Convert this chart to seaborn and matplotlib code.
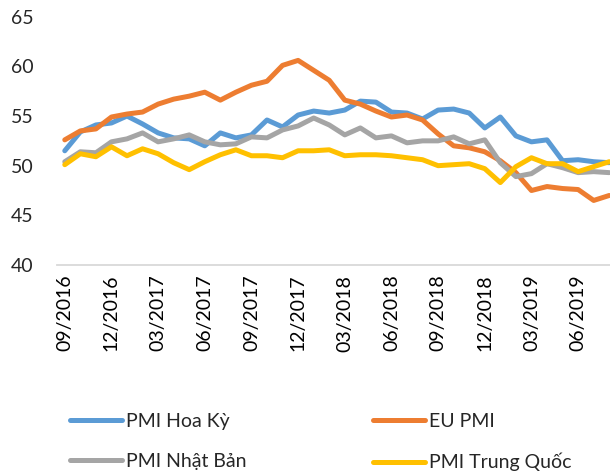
import numpy as np
import pandas as pd
import matplotlib.pyplot as plt
import seaborn as sns
from matplotlib.lines import Line2D

# ==========================
# Data (monthly, 09/2016 - 08/2019)
# ==========================
months = pd.date_range("2016-09-01", "2019-08-01", freq="MS").strftime("%m/%Y").tolist()

pmi_hoa_ky = [51.5, 53.4, 54.1, 54.3, 55.0, 54.2, 53.3, 52.8, 52.7, 52.0, 53.3, 52.8,
              53.1, 54.6, 53.9, 55.1, 55.5, 55.3, 55.6, 56.5, 56.4, 55.4, 55.3, 54.7,
              55.6, 55.7, 55.3, 53.8, 54.9, 53.0, 52.4, 52.6, 50.5, 50.6, 50.4, 50.3]
eu_pmi = [52.6, 53.5, 53.7, 54.9, 55.2, 55.4, 56.2, 56.7, 57.0, 57.4, 56.6, 57.4,
          58.1, 58.5, 60.1, 60.6, 59.6, 58.6, 56.6, 56.2, 55.5, 54.9, 55.1, 54.6,
          53.2, 52.0, 51.8, 51.4, 50.5, 49.3, 47.5, 47.9, 47.7, 47.6, 46.5, 47.0]
pmi_nhat_ban = [50.4, 51.4, 51.3, 52.4, 52.7, 53.3, 52.4, 52.7, 53.1, 52.4, 52.1, 52.2,
                52.9, 52.8, 53.6, 54.0, 54.8, 54.1, 53.1, 53.8, 52.8, 53.0, 52.3, 52.5,
                52.5, 52.9, 52.2, 52.6, 50.3, 48.9, 49.2, 50.2, 49.8, 49.3, 49.4, 49.3]
pmi_trung_quoc = [50.1, 51.2, 50.9, 51.9, 51.0, 51.7, 51.2, 50.3, 49.6, 50.4, 51.1, 51.6,
                  51.0, 51.0, 50.8, 51.5, 51.5, 51.6, 51.0, 51.1, 51.1, 51.0, 50.8, 50.6,
                  50.0, 50.1, 50.2, 49.7, 48.3, 49.9, 50.8, 50.2, 50.2, 49.4, 49.9, 50.4]

series_names = ["PMI Hoa Kỳ", "EU PMI", "PMI Nhật Bản", "PMI Trung Quốc"]
colors = ["#5B9BD5", "#ED7D31", "#A5A5A5", "#FFC000"]

df = pd.DataFrame({
    "Month": months,
    "PMI Hoa Kỳ": pmi_hoa_ky,
    "EU PMI": eu_pmi,
    "PMI Nhật Bản": pmi_nhat_ban,
    "PMI Trung Quốc": pmi_trung_quoc,
})
df["pos"] = np.arange(len(df))
long_df = df.melt(id_vars=["Month", "pos"], var_name="Series", value_name="PMI")

# ==========================
# Plot
# ==========================
sns.set_style("white")
plt.rcParams["font.family"] = ["Lato", "DejaVu Sans"]

fig = plt.figure(figsize=(6.1, 4.76), dpi=100)
ax = fig.add_axes([57 / 610, 1 - 265 / 476, 1 - 57 / 610, (265 - 16.7) / 476])

sns.lineplot(
    data=long_df, x="pos", y="PMI", hue="Series",
    hue_order=series_names, palette=colors,
    linewidth=3.6, legend=False, ax=ax,
)

n = len(months)
ax.set_xlim(-0.5, 35.05)
ax.set_ylim(40, 65)
ax.set_yticks([40, 45, 50, 55, 60, 65])
ax.set_xlabel("")
ax.set_ylabel("")

label_pos = np.arange(0, n - 2, 3)
ax.set_xticks(label_pos)
ax.set_xticklabels([months[i] for i in label_pos], rotation=90)
ax.set_xticks(label_pos - 0.5, minor=True)

ax.tick_params(axis="x", which="major", length=0, pad=7, labelsize=14, colors="black")
ax.tick_params(axis="x", which="minor", length=5, width=1.2, color="#D9D9D9", direction="out")
ax.tick_params(axis="y", length=0, pad=17, labelsize=14)

for side in ["top", "right", "left"]:
    ax.spines[side].set_visible(False)
ax.spines["bottom"].set_color("#D9D9D9")
ax.spines["bottom"].set_linewidth(1.3)

# legend is filled column-wise, so order it to read row by row like the original
legend_order = [0, 2, 1, 3]
handles = [Line2D([0], [0], color=colors[i], linewidth=3.6) for i in legend_order]
labels = [series_names[i] for i in legend_order]
fig.legend(
    handles, labels,
    loc="upper left", bbox_to_anchor=(52 / 610, 1 - 395 / 476),
    ncol=2, frameon=False, fontsize=14,
    handlelength=2.7, handletextpad=0.2, columnspacing=6.5, labelspacing=1.2,
)

fig.savefig("out.png", dpi=100)
